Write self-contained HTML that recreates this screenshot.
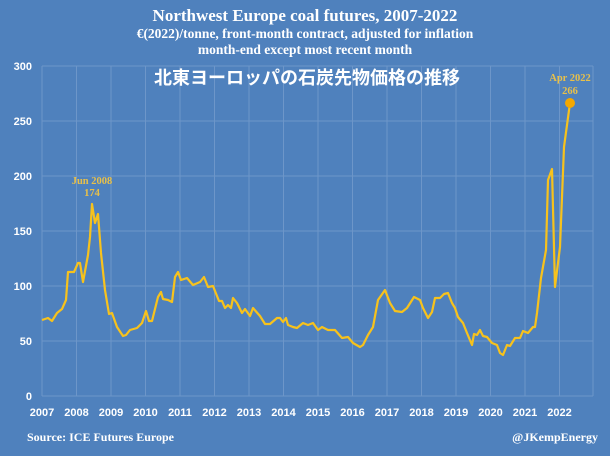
<!DOCTYPE html>
<html><head><meta charset="utf-8"><style>
body{margin:0;width:610px;height:451px;background:#4f81bd;overflow:hidden}
</style></head><body>
<svg width="610" height="451" xmlns="http://www.w3.org/2000/svg">
<rect width="610" height="451" fill="#4f81bd"/>
<g font-family="Liberation Serif, serif" font-weight="bold" fill="#fff" text-anchor="middle">
<text x="305" y="21" font-size="17">Northwest Europe coal futures, 2007-2022</text>
<text x="305" y="38" font-size="13.5">€(2022)/tonne, front-month contract, adjusted for inflation</text>
<text x="305" y="54" font-size="13.5">month-end except most recent month</text>
</g>
<g stroke="#7a9fcf" stroke-width="1" opacity="0.7">
<line x1="42" y1="66" x2="593" y2="66"/><line x1="42" y1="121" x2="593" y2="121"/>
<line x1="42" y1="176" x2="593" y2="176"/><line x1="42" y1="231" x2="593" y2="231"/>
<line x1="42" y1="286" x2="593" y2="286"/><line x1="42" y1="341" x2="593" y2="341"/>
<line x1="42" y1="396" x2="593" y2="396"/>
<line x1="42" y1="66" x2="42" y2="396"/><line x1="76.5" y1="66" x2="76.5" y2="396"/><line x1="111" y1="66" x2="111" y2="396"/><line x1="145.5" y1="66" x2="145.5" y2="396"/><line x1="180" y1="66" x2="180" y2="396"/><line x1="214.5" y1="66" x2="214.5" y2="396"/><line x1="249" y1="66" x2="249" y2="396"/><line x1="283.5" y1="66" x2="283.5" y2="396"/><line x1="318" y1="66" x2="318" y2="396"/><line x1="352.5" y1="66" x2="352.5" y2="396"/><line x1="387" y1="66" x2="387" y2="396"/><line x1="421.5" y1="66" x2="421.5" y2="396"/><line x1="456" y1="66" x2="456" y2="396"/><line x1="490.5" y1="66" x2="490.5" y2="396"/><line x1="525" y1="66" x2="525" y2="396"/><line x1="559.5" y1="66" x2="559.5" y2="396"/><line x1="593" y1="66" x2="593" y2="396"/>
</g>
<g font-family="Liberation Sans, sans-serif" font-weight="bold" font-size="11" fill="#fff" text-anchor="end">
<text x="32" y="70">300</text><text x="32" y="125">250</text><text x="32" y="180">200</text><text x="32" y="235">150</text><text x="32" y="290">100</text><text x="32" y="345">50</text><text x="32" y="400">0</text>
</g>
<g font-family="Liberation Sans, sans-serif" font-weight="bold" font-size="11" fill="#fff" text-anchor="middle">
<text x="42" y="416">2007</text><text x="76.5" y="416">2008</text><text x="111" y="416">2009</text><text x="145.5" y="416">2010</text><text x="180" y="416">2011</text><text x="214.5" y="416">2012</text><text x="249" y="416">2013</text><text x="283.5" y="416">2014</text><text x="318" y="416">2015</text><text x="352.5" y="416">2016</text><text x="387" y="416">2017</text><text x="421.5" y="416">2018</text><text x="456" y="416">2019</text><text x="490.5" y="416">2020</text><text x="525" y="416">2021</text><text x="559.5" y="416">2022</text>
</g>
<text x="307" y="84" font-family="Liberation Sans, 'Noto Sans CJK JP', sans-serif" font-weight="bold" font-size="18" fill="#fff" text-anchor="middle">北東ヨーロッパの石炭先物価格の推移</text>
<polyline fill="none" stroke="#f7c21c" stroke-width="2.2" stroke-linejoin="round" points="42,320 48,318 52,321 57,313 62,309 66,300 68,272 74,272 78,263 80,263 83,282 88,255 90,237 92,204 95,223 98,214 101,253 105,290 109,314 112,313 117,327 123,336 126,335 130,330 137,328 142,323 146,311 149,321 152,321 158,297 161,292 163,299 168,300 172,302 175,277 178,272 181,280 187,278 193,285 200,282 204,277 208,287 213,286 219,301 222,301 225,308 228,305 231,308 233,298 237,303 242,313 245,309 250,316 253,308 260,316 265,324 270,324 277,318 280,318 283,322 286,318 288,325 293,327 297,328 303,323 308,325 313,323 318,330 322,327 328,330 335,330 342,338 348,337 353,343 360,347 363,345 368,335 373,327 378,300 385,290 390,303 395,311 402,312 407,308 414,297 420,300 423,308 428,318 432,312 435,298 440,298 444,294 448,293 452,303 455,308 458,317 463,323 467,333 472,345 474,334 477,335 480,330 483,336 487,337 492,343 497,345 500,353 503,355 507,345 510,346 515,338 520,338 523,331 528,333 533,327 535,327 537,313 541,278 546,250 548,180 552,169 555,287 560,247 564,147 570,103"/>
<circle cx="570" cy="103" r="5" fill="#f5a800"/>
<g font-family="Liberation Serif, serif" font-weight="bold" font-size="10.5" fill="#e8c04a" text-anchor="middle">
<text x="92" y="184">Jun 2008</text><text x="92" y="196">174</text>
<text x="570" y="81">Apr 2022</text><text x="570" y="94">266</text>
</g>
<g font-family="Liberation Serif, serif" font-weight="bold" font-size="12" fill="#fff">
<text x="27" y="441">Source: ICE Futures Europe</text>
<text x="598" y="441" text-anchor="end">@JKempEnergy</text>
</g>
</svg>
</body></html>
